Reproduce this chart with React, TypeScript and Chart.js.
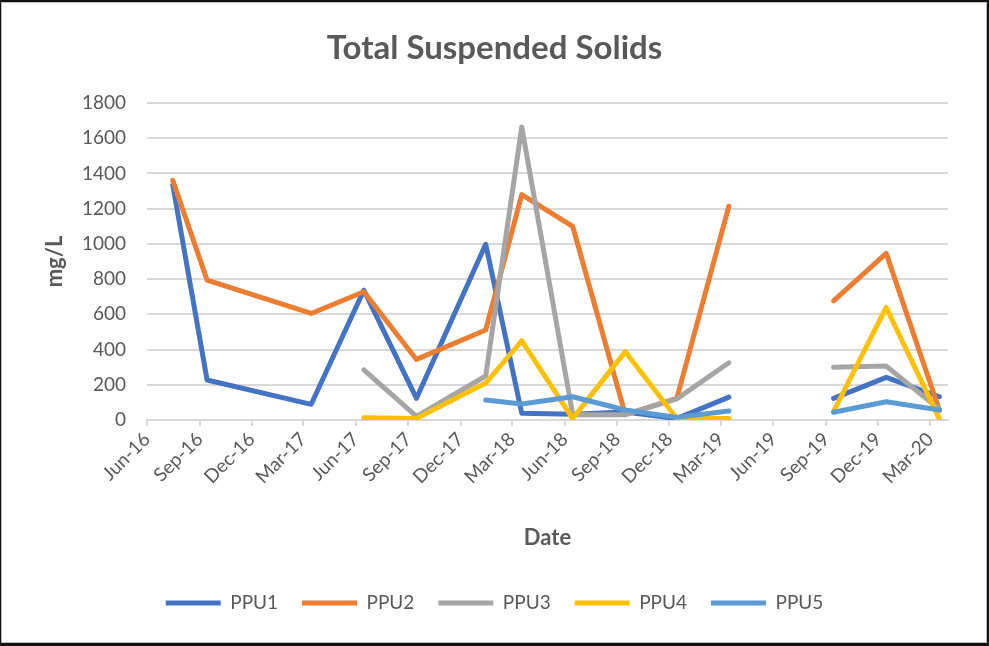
import React, { useEffect, useRef } from "react";
import { Chart, registerables } from "chart.js";

Chart.register(...registerables);

// ---- data ----
const sampleDates = [
  "2016-07-16", "2016-09-14", "2017-03-15", "2017-06-15", "2017-09-15",
  "2018-01-14", "2018-03-18", "2018-06-15", "2018-09-15", "2018-12-14",
  "2019-03-15", "2019-06-15", "2019-09-14", "2019-12-15", "2020-03-17",
];
const seriesNames = ["PPU1", "PPU2", "PPU3", "PPU4", "PPU5"];
const ppu1 = [1335, 227, 89, 737, 123, 998, 38, 32, 45, 8, 130, null, 123, 242, 132];
const ppu2 = [1361, 794, 605, 728, 344, 511, 1280, 1100, 30, 123, 1214, null, 677, 946, 55];
const ppu3 = [null, null, null, 284, 20, 250, 1664, 30, 30, 120, 325, null, 299, 306, 61];
const ppu4 = [null, null, null, 13, 9, 210, 450, 8, 388, 9, 9, null, 47, 639, 6];
const ppu5 = [null, null, null, null, null, 113, 91, 132, 57, 15, 51, null, 44, 104, 57];
const seriesColors = ["#4472C4", "#ED7D31", "#A5A5A5", "#FFC000", "#5B9BD5"];

const xTickDates = [
  "2016-06-01", "2016-09-01", "2016-12-01", "2017-03-01", "2017-06-01",
  "2017-09-01", "2017-12-01", "2018-03-01", "2018-06-01", "2018-09-01",
  "2018-12-01", "2019-03-01", "2019-06-01", "2019-09-01", "2019-12-01",
  "2020-03-01",
];
const xTickLabels = [
  "Jun-16", "Sep-16", "Dec-16", "Mar-17", "Jun-17", "Sep-17", "Dec-17", "Mar-18",
  "Jun-18", "Sep-18", "Dec-18", "Mar-19", "Jun-19", "Sep-19", "Dec-19", "Mar-20",
];
const xMinDate = "2016-06-01";
const xMaxDate = "2020-04-01";
const yMin = 0;
const yMax = 1800;
const yStep = 200;

const titleText = "Total Suspended Solids";
const xTitle = "Date";
const yTitle = "mg/L";

const toDay = (s: string) =>
  Date.UTC(+s.slice(0, 4), +s.slice(5, 7) - 1, +s.slice(8, 10)) / 86400000;

const FONT = "Lato";
const TEXT = "#595959";
const GRID = "#d9d9d9";

export default function App() {
  const ref = useRef<HTMLCanvasElement | null>(null);

  useEffect(() => {
    const canvas = ref.current;
    if (!canvas) return;
    Chart.defaults.font.family = FONT;
    const allSeries = [ppu1, ppu2, ppu3, ppu4, ppu5];
    const tickDays = xTickDates.map(toDay);

    const datasets = allSeries.map((vals, si) => ({
      label: seriesNames[si],
      data: sampleDates.map((d, i) => ({ x: toDay(d), y: vals[i] })),
      borderColor: seriesColors[si],
      backgroundColor: seriesColors[si],
      borderWidth: 5,
      borderCapStyle: "round" as const,
      borderJoinStyle: "round" as const,
      pointRadius: 0,
      pointHoverRadius: 0,
      tension: 0,
      spanGaps: false,
      fill: false,
      order: allSeries.length - si,
      yAxisID: "y",
    }));

    const chart = new Chart(canvas, {
      type: "line",
      data: { datasets },
      options: {
        animation: false,
        responsive: false,
        devicePixelRatio: 1,
        layout: { padding: { left: 0, right: 0, top: 0, bottom: 23.5 } },
        plugins: {
          title: {
            display: true,
            text: titleText,
            color: TEXT,
            font: { family: FONT, size: 33, weight: "bold" },
            padding: { top: 29, bottom: 34.4 },
          },
          legend: {
            display: true,
            position: "bottom",
            labels: {
              color: TEXT,
              font: { family: FONT, size: 19 },
              usePointStyle: true,
              pointStyle: "line",
              pointStyleWidth: 55,
              padding: 24,
              sort: (a: any, b: any) => a.datasetIndex - b.datasetIndex,
            },
          },
          tooltip: { enabled: false },
        },
        scales: {
          x: {
            type: "linear",
            position: "bottom",
            min: toDay(xMinDate),
            max: toDay(xMaxDate),
            afterBuildTicks: (scale: any) => {
              scale.ticks = tickDays.map((v) => ({ value: v }));
            },
            afterFit: (scale: any) => {
              scale.height = 149.5;
            },
            ticks: {
              autoSkip: false,
              minRotation: 45,
              maxRotation: 45,
              color: TEXT,
              font: { family: FONT, size: 19 },
              padding: 2,
              callback: (v: any) => {
                const idx = tickDays.indexOf(Number(v));
                return idx >= 0 ? xTickLabels[idx] : "";
              },
            },
            grid: {
              display: true,
              drawOnChartArea: false,
              drawTicks: true,
              tickLength: 6,
              color: GRID,
              lineWidth: 2,
            },
            border: { display: true, color: GRID, width: 2 },
            title: {
              display: true,
              text: xTitle,
              color: TEXT,
              font: { family: FONT, size: 22, weight: "bold" },
              padding: { top: 0, bottom: 18.5 },
            },
          },
          y: {
            type: "linear",
            position: "left",
            min: yMin,
            max: yMax,
            afterFit: (scale: any) => {
              scale.width = 147;
            },
            ticks: {
              stepSize: yStep,
              color: TEXT,
              font: { family: FONT, size: 19 },
              padding: 21,
              callback: (v: any) => String(v),
            },
            grid: {
              display: true,
              drawTicks: false,
              color: GRID,
              lineWidth: 2,
            },
            border: { display: false },
            title: {
              display: true,
              text: yTitle,
              color: TEXT,
              font: { family: FONT, size: 22, weight: "bold" },
              padding: { top: 42, bottom: 0 },
            },
          },
          yRight: {
            type: "linear",
            position: "right",
            display: true,
            afterFit: (scale: any) => {
              scale.width = 41;
            },
            ticks: { display: false },
            grid: { display: false, drawTicks: false },
            border: { display: false },
          },
        },
      },
    } as any);

    return () => chart.destroy();
  }, []);

  return (
    <div
      style={{
        position: "fixed",
        left: 0,
        top: 0,
        width: 989,
        height: 646,
        background: "#ffffff",
      }}
    >
      <canvas
        ref={ref}
        width={989}
        height={646}
        style={{ position: "absolute", left: 0, top: 0, width: 989, height: 646 }}
      />
      <div
        style={{
          position: "absolute",
          left: 0,
          top: 0,
          width: 989,
          height: 646,
          boxSizing: "border-box",
          borderTop: "2px solid #111",
          borderLeft: "1px solid #111",
          borderRight: "2px solid #111",
          borderBottom: "3px solid #111",
          pointerEvents: "none",
        }}
      >
        <div
          style={{
            width: "100%",
            height: "100%",
            boxSizing: "border-box",
            border: "1px solid #bdbdbd",
          }}
        />
      </div>
    </div>
  );
}
